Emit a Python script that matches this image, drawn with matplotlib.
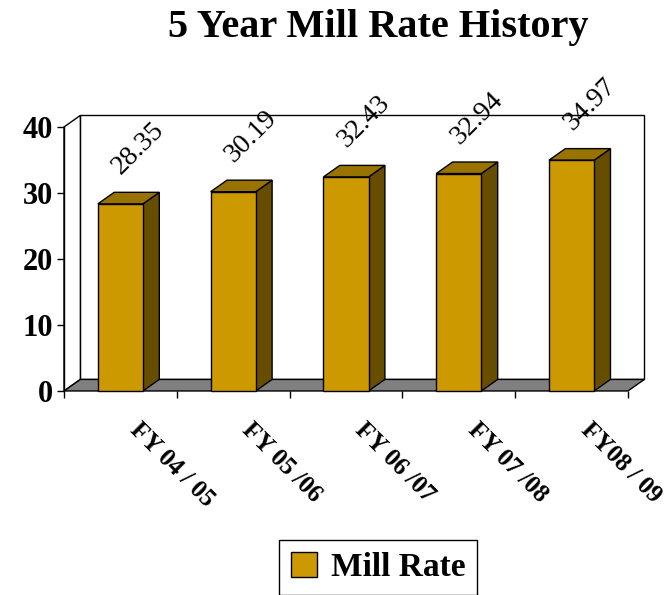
import matplotlib
matplotlib.use("Agg")
import matplotlib.pyplot as plt
from matplotlib.patches import Polygon, Patch
from matplotlib.transforms import offset_copy

categories = ["FY 04 / 05", "FY 05 /06", "FY 06 /07", "FY 07 /08", "FY08 / 09"]
mill_rate = [28.35, 30.19, 32.43, 32.94, 34.97]
y_ticks = [0, 10, 20, 30, 40]

front_color = "#CC9900"
top_color = "#997300"
side_color = "#664D00"
floor_color = "#808080"

plt.rcParams["font.family"] = ["Liberation Serif", "DejaVu Serif"]

fig = plt.figure(figsize=(6.66, 5.95), dpi=100)
ax = fig.add_axes([0.0961, 0.3429, 0.8468, 0.4437])
n = len(categories)
ax.set_xlim(-0.5, n - 0.5)
ax.set_ylim(0, 40)

# depth of the fake 3d box, in data units
dx, dy = 0.145, 1.75
bar_w = 0.4
x0, x1 = -0.5, n - 0.5

# back wall, left wall, floor
ax.add_patch(Polygon([(x0 + dx, dy), (x1 + dx, dy), (x1 + dx, 40 + dy), (x0 + dx, 40 + dy)],
                     fc="white", ec="black", lw=1, clip_on=False, zorder=0.5))
ax.add_patch(Polygon([(x0, 0), (x0, 40), (x0 + dx, 40 + dy), (x0 + dx, dy)],
                     fc="white", ec="black", lw=1, clip_on=False, zorder=0.6))
ax.add_patch(Polygon([(x0, 0), (x1, 0), (x1 + dx, dy), (x0 + dx, dy)],
                     fc=floor_color, ec="black", lw=1, clip_on=False, zorder=0.7))

# bars
for i, v in enumerate(mill_rate):
    l, r = i - bar_w / 2, i + bar_w / 2
    ax.add_patch(Polygon([(r, 0), (r + dx, dy), (r + dx, v + dy), (r, v)],
                         fc=side_color, ec="black", lw=1, clip_on=False, zorder=2))
    ax.add_patch(Polygon([(l, v), (r, v), (r + dx, v + dy), (l + dx, v + dy)],
                         fc=top_color, ec="black", lw=1, clip_on=False, zorder=2))
    ax.bar(i, v, width=bar_w, color=front_color, edgecolor="black", lw=1, zorder=3, clip_on=False)
    ax.text(i, v, f"{v:.2f}", rotation=45, rotation_mode="anchor", ha="center", va="center",
            fontsize=20, transform=offset_copy(ax.transData, fig=fig, x=13, y=40, units="points"))

# category labels
for i, lab in enumerate(categories):
    ax.text(i, 0, lab, rotation=-45, rotation_mode="anchor", ha="left", va="top",
            fontsize=18, fontweight="bold",
            transform=offset_copy(ax.transData, fig=fig, x=15, y=-20, units="points"))

for s in ["top", "right", "bottom"]:
    ax.spines[s].set_visible(False)
ax.spines["left"].set_linewidth(1)
ax.spines["left"].set_zorder(5)
ax.set_yticks(y_ticks)
ax.set_yticklabels([str(t) for t in y_ticks], fontsize=22, fontweight="bold")
ax.set_xticks([x0 + k for k in range(n + 1)])
ax.set_xticklabels([])
ax.tick_params(axis="y", direction="out", length=5, width=1, pad=3)
ax.tick_params(axis="x", direction="out", length=5, width=1)
ax.patch.set_visible(False)

fig.text(378 / 666, 1 - 37 / 595, "5 Year Mill Rate History", ha="center", va="baseline",
         fontsize=29, fontweight="bold")

leg = fig.legend(handles=[Patch(fc=front_color, ec="black", label="Mill Rate")],
                 loc="upper center", bbox_to_anchor=(378 / 666, 1 - 540 / 595),
                 borderaxespad=0, frameon=True, fancybox=False, edgecolor="black",
                 framealpha=1, prop={"weight": "bold", "size": 24},
                 handlelength=0.8, handleheight=0.8, borderpad=0.35, handletextpad=0.4)
leg.get_frame().set_linewidth(1)

fig.savefig("out.png", dpi=100)
